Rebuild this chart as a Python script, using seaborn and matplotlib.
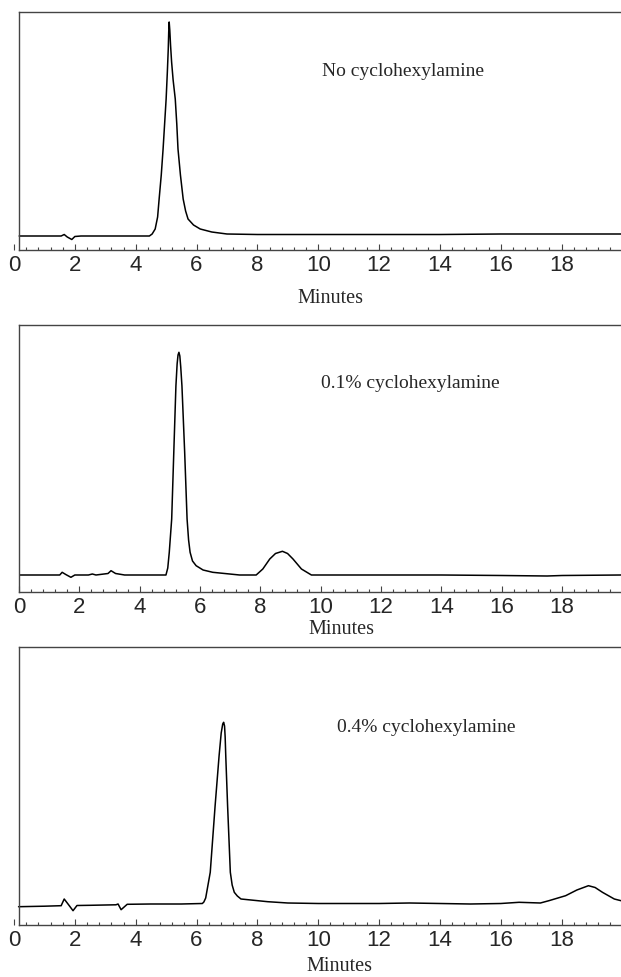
import numpy as np
import pandas as pd
import seaborn as sns
import matplotlib.pyplot as plt
from matplotlib.ticker import MultipleLocator

sns.set_style('ticks')
plt.rcParams['font.family'] = ['Liberation Sans', 'DejaVu Sans']

# chromatogram traces: retention time (min) and detector signal (arbitrary units)
t_none = [0.17, 1.0, 1.55, 1.65, 1.75, 1.9, 2.0, 2.2, 3.0, 4.0, 4.45, 4.54, 4.64, 4.72,
          4.77, 4.84, 4.90, 4.95, 5.0, 5.04, 5.07, 5.085, 5.10, 5.12, 5.145, 5.18,
          5.23, 5.30, 5.35, 5.39, 5.47, 5.56, 5.64, 5.72, 5.9, 6.12, 6.5, 7.0, 8.0,
          10.0, 12.0, 14.0, 16.0, 18.0, 19.95]
s_none = [14, 14, 14, 15.5, 13, 10.5, 13.5, 14, 14, 14, 14, 16, 21, 33,
          51, 75, 101, 126, 151, 178, 201, 218, 228, 220, 205, 188,
          170, 151, 126, 101, 75, 51, 39, 31, 25, 21, 18, 16, 15.5,
          15.5, 15.5, 15.5, 16, 16, 16]

t_01 = [0.0, 1.0, 1.35, 1.43, 1.55, 1.72, 1.85, 2.3, 2.43, 2.55, 2.95, 3.05, 3.2, 3.5,
        4.5, 4.87, 4.93, 4.98, 5.06, 5.13, 5.2, 5.24, 5.27, 5.30, 5.33, 5.36, 5.40,
        5.49, 5.57, 5.62, 5.67, 5.75, 5.87, 6.1, 6.42, 7.31, 7.86, 8.08, 8.31, 8.5,
        8.73, 8.9, 9.08, 9.36, 9.69, 10.0, 12.0, 14.0, 16.0, 17.5, 18.0, 19.95]
s_01 = [17, 17, 17, 19.7, 17.5, 14.7, 17, 17, 18, 17, 18.5, 21.3, 18.5, 17,
        17, 17, 24, 39.7, 73, 140, 206, 228, 237, 239.7, 236, 225, 206,
        140, 73, 52, 39.7, 31, 26.3, 22, 19.7, 17, 17, 23, 33, 38.5,
        40.7, 38.5, 33, 23, 17, 17, 17, 17, 16.5, 16, 16.5, 17]

t_04 = [0.15, 1.0, 1.55, 1.65, 1.8, 1.94, 2.07, 2.5, 3.0, 3.35, 3.42, 3.52, 3.72, 4.5,
        5.5, 6.19, 6.24, 6.30, 6.45, 6.61, 6.74, 6.81, 6.86, 6.89, 6.92, 6.94, 6.96,
        7.02, 7.11, 7.17, 7.24, 7.34, 7.46, 8.34, 9.0, 10.0, 12.0, 13.0, 14.0, 15.0,
        16.0, 16.6, 17.3, 17.58, 18.13, 18.5, 18.88, 19.1, 19.34, 19.73, 19.95]
s_04 = [18.3, 18.8, 19.3, 26, 20, 14.3, 19.5, 19.7, 20, 20.2, 21, 15.3, 20.7, 21,
        21, 21.5, 23, 27, 52.7, 119.3, 169, 192, 201, 202.7, 199, 188, 169,
        119.3, 52.7, 40, 32.7, 29, 26, 23.3, 22, 21.5, 21.5, 22, 21.5, 21,
        21.5, 22.7, 22, 24.3, 29.3, 35, 39.3, 37.5, 32.7, 26, 24.3]

labels = ['No cyclohexylamine', '0.1% cyclohexylamine', '0.4% cyclohexylamine']
traces = [(t_none, s_none), (t_01, s_01), (t_04, s_04)]

W, H = 621, 978
# panel geometry in pixels: x of t=0, px per minute, top, bottom, left spine time
panels = [
    dict(x0=14, ppm=30.4, top=13, bottom=251, spine=0.17, text=(10.13, 179), lab=(330, 299)),
    dict(x0=19, ppm=30.1, top=326, bottom=593, spine=0.0, text=(10.0, 210), lab=(341, 630)),
    dict(x0=14, ppm=30.3, top=648, bottom=926, spine=0.16, text=(10.6, 198), lab=(339, 967)),
]

fig = plt.figure(figsize=(W / 100, H / 100), dpi=100)

for (t, s), label, p in zip(traces, labels, panels):
    ax = fig.add_axes([p['x0'] / W, 1 - p['bottom'] / H,
                       (W - p['x0']) / W, (p['bottom'] - p['top']) / H])
    df = pd.DataFrame({'Minutes': t, 'Signal': s})
    sns.lineplot(data=df, x='Minutes', y='Signal', ax=ax, color='black',
                 linewidth=1.1, estimator=None)
    xmax = min((W - p['x0']) / p['ppm'], 19.95)
    ax.set_xlim(0, xmax)
    ax.set_ylim(0, p['bottom'] - p['top'])

    ax.spines['right'].set_visible(False)
    ax.spines['left'].set_position(('data', p['spine']))
    ax.spines['top'].set_bounds(p['spine'], xmax)
    ax.spines['bottom'].set_bounds(p['spine'], xmax)
    for sp in ax.spines.values():
        sp.set_color('#444444')
        sp.set_linewidth(1.0)

    ax.set_yticks([])
    ax.set_ylabel('')
    ax.xaxis.set_major_locator(MultipleLocator(2))
    ax.xaxis.set_minor_locator(MultipleLocator(0.4))
    ax.tick_params(axis='x', which='major', direction='in', length=4, width=0.8,
                   color='#444444', labelsize=16, pad=3)
    ax.tick_params(axis='x', which='minor', direction='in', length=2.5, width=0.8,
                   color='#444444')

    ax.set_xlabel('Minutes', family='Liberation Serif', fontsize=14.5)
    ax.xaxis.label.set_va('center')
    ax.xaxis.set_label_coords((p['lab'][0] - p['x0']) / (W - p['x0']),
                              (p['bottom'] - p['lab'][1]) / (p['bottom'] - p['top']))

    ax.text(p['text'][0], p['text'][1], label, family='Liberation Serif',
            fontsize=14, ha='left', va='center')

fig.savefig('out.png', dpi=100)
